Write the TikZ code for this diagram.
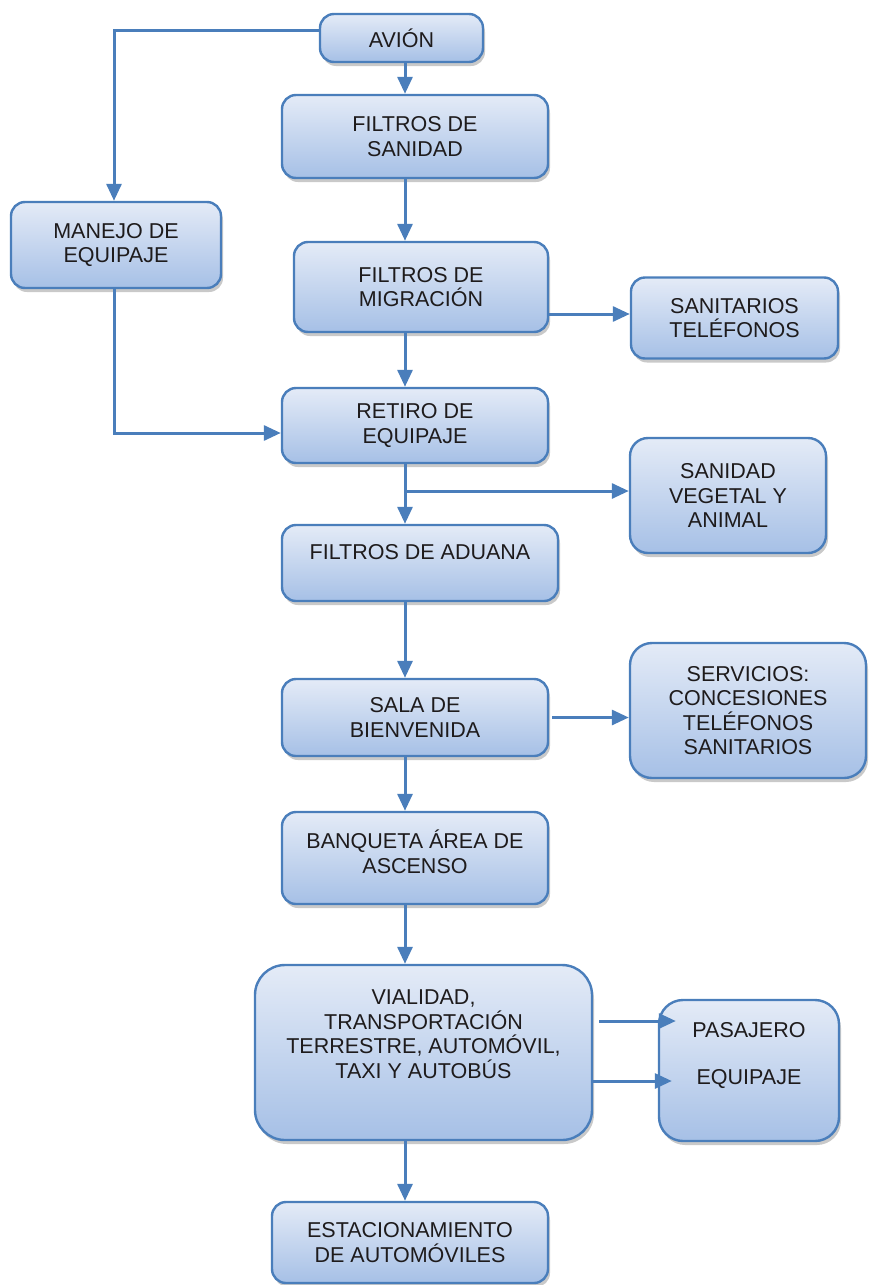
\documentclass[tikz,border=0pt]{standalone}
\usepackage{fontspec}
\setmainfont{Liberation Sans}
\usetikzlibrary{arrows.meta,positioning,shadows}
\definecolor{borde}{RGB}{74,126,187}
\definecolor{arriba}{RGB}{228,235,247}
\definecolor{abajo}{RGB}{166,192,230}
\definecolor{letra}{RGB}{30,27,28}

\tikzset{
  txt/.style={align=center, text=letra, font=\fontsize{21.5}{24.5}\selectfont, inner sep=0pt},
  caja/.style={txt, draw=borde, line width=2.4pt, rounded corners=14pt,
    top color=arriba, bottom color=abajo,
    drop shadow={shadow xshift=2pt, shadow yshift=-4pt, opacity=.3, fill=black!70}},
  linea/.style={draw=borde, line width=3pt},
  flecha/.style={linea, -{Triangle[length=17pt,width=15pt]}}
}

\begin{document}
\begin{tikzpicture}[x=1pt,y=-1pt]
\useasboundingbox (0,0) rectangle (870,1285);
\coordinate (eje) at (405,0);

% cajas
\node[caja, minimum width=163pt, minimum height=48pt] (avion) at (401.5,38) {AVIÓN};
\node[caja, minimum width=266pt, minimum height=83pt] (sanidad) at (415,136.5) {FILTROS DE\\SANIDAD};
\node[caja, minimum width=210pt, minimum height=86pt] (manejo) at (116,245) {MANEJO DE\\EQUIPAJE};
\node[caja, minimum width=254pt, minimum height=90pt] (migracion) at (421,287) {FILTROS DE\\MIGRACIÓN};
\node[caja, minimum width=207pt, minimum height=81pt] (sanitarios) at (734.5,318) {SANITARIOS\\TELÉFONOS};
\node[caja, minimum width=266pt, minimum height=75pt] (retiro) at (415,425.5) {RETIRO DE\\EQUIPAJE};
\node[caja, rounded corners=18pt, minimum width=196pt, minimum height=115pt] (vegetal) at (728,495.5) {SANIDAD\\VEGETAL Y\\ANIMAL};
\node[caja, minimum width=276pt, minimum height=76pt] (aduana) at (420,563) {};
\node[txt] at (420,552) {FILTROS DE ADUANA};
\node[caja, minimum width=266pt, minimum height=77pt] (sala) at (415,717.5) {SALA DE\\BIENVENIDA};
\node[caja, rounded corners=22pt, minimum width=236pt, minimum height=135pt] (servicios) at (748,710.5) {SERVICIOS:\\CONCESIONES\\TELÉFONOS\\SANITARIOS};
\node[caja, minimum width=266pt, minimum height=92pt] (banqueta) at (415,858) {};
\node[txt] at (415,852) {BANQUETA ÁREA DE\\ASCENSO};
\node[caja, rounded corners=30pt, minimum width=337pt, minimum height=175pt] (vialidad) at (423.5,1052.5) {};
\node[txt] at (423.5,1034) {VIALIDAD,\\TRANSPORTACIÓN\\TERRESTRE, AUTOMÓVIL,\\TAXI Y AUTOBÚS};
\node[caja, rounded corners=24pt, minimum width=180pt, minimum height=141pt] (destino) at (749,1070.5) {};
\node[txt] (pasajero) at (749,1030) {PASAJERO};
\node[txt] (equipaje) at (749,1079) {EQUIPAJE};
\node[caja, minimum width=276pt, minimum height=81pt] (estacionamiento) at (410,1242.5) {ESTACIONAMIENTO\\DE AUTOMÓVILES};

% conexiones
\draw[flecha] (avion.south -| eje) -- (sanidad.north -| eje);
\draw[flecha] (sanidad.south -| eje) -- (migracion.north -| eje);
\draw[flecha] (migracion.south -| eje) -- (retiro.north -| eje);
\draw[flecha] (retiro.south -| eje) -- (aduana.north -| eje);
\draw[flecha] (aduana.south -| eje) -- (sala.north -| eje);
\draw[flecha] (sala.south -| eje) -- (banqueta.north -| eje);
\draw[flecha] (banqueta.south -| eje) -- (vialidad.north -| eje);
\draw[flecha] (vialidad.south -| eje) -- (estacionamiento.north -| eje);
\draw[flecha] (avion.west |- 0,30) -| ([xshift=-2pt]manejo.north);
\draw[flecha] ([xshift=-2pt]manejo.south) |- (retiro.west |- 0,433);
\draw[flecha] (migracion.east |- 0,314) -- (sanitarios.west |- 0,314);
\draw[flecha] (eje |- 0,491) -- (vegetal.west |- 0,491);
\draw[flecha] ([xshift=3pt]sala.east) -- (sala.east -| servicios.west);
\draw[flecha] ([xshift=6pt]vialidad.east |- 0,1021) -- ([xshift=18pt]destino.west |- 0,1021);
\draw[flecha] (vialidad.east |- 0,1081) -- ([xshift=14pt]destino.west |- 0,1081);
\end{tikzpicture}
\end{document}
